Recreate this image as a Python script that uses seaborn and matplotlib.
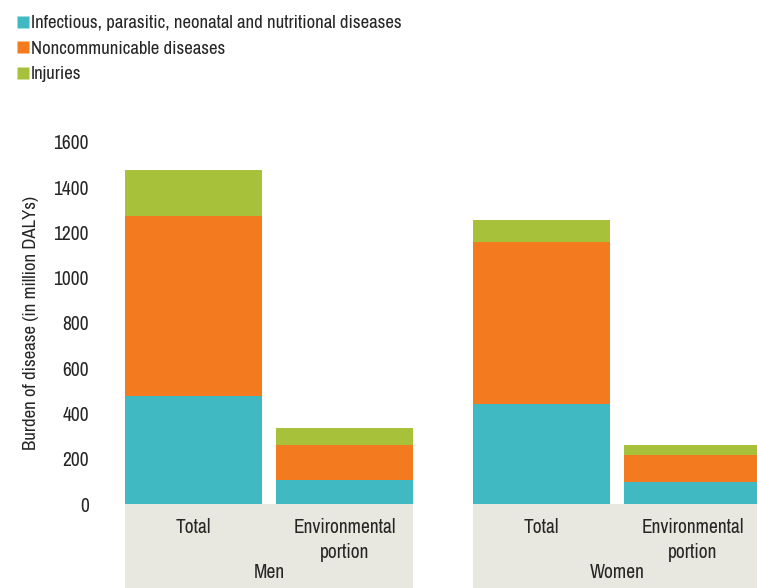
import pandas as pd
import seaborn as sns
import matplotlib.pyplot as plt
import matplotlib.transforms as mtransforms
from matplotlib import font_manager
from matplotlib.patches import Rectangle
from matplotlib.lines import Line2D

sex = ['Men', 'Men', 'Women', 'Women']
portion = ['Total', 'Environmental\nportion', 'Total', 'Environmental\nportion']
infectious = [477, 106, 443, 97]
noncommunicable = [796, 155, 715, 120]
injuries = [203, 75, 97, 44]

series_names = ['Infectious, parasitic, neonatal and nutritional diseases',
                'Noncommunicable diseases', 'Injuries']
colors = ['#40B9C3', '#F47A20', '#A8C13A']
band_color = '#E9E8E0'
text_color = '#262626'

# the original uses a condensed face; take a narrow one if there is any
narrow = None
for f in font_manager.fontManager.ttflist:
    n = f.name.lower()
    if 'narrow' in n or 'condensed' in n:
        narrow = f.name
        break

sns.set_style('white')
if narrow is not None:
    plt.rcParams['font.family'] = [narrow, 'DejaVu Sans']
    fsize = 14
else:
    plt.rcParams['font.family'] = ['DejaVu Sans']
    fsize = 11
plt.rcParams['text.color'] = text_color
plt.rcParams['ytick.color'] = text_color

df = pd.DataFrame({'sex': sex, 'portion': portion,
                   'inf': infectious, 'ncd': noncommunicable, 'inj': injuries})
df['c1'] = df['inf']
df['c2'] = df['inf'] + df['ncd']
df['c3'] = df['c2'] + df['inj']

fig = plt.figure(figsize=(7.57, 5.88), dpi=100)
ax = fig.add_axes([125 / 757, 84 / 588, 632 / 757, 362 / 588])

hue_order = ['Total', 'Environmental\nportion']
for col, color in zip(['c3', 'c2', 'c1'], colors[::-1]):
    sns.barplot(df, x='sex', y=col, hue='portion', hue_order=hue_order,
                palette=[color, color], width=0.868, gap=0.093,
                saturation=1, legend=False, errorbar=None, linewidth=0, ax=ax)

ax.set_ylim(0, 1600)
ax.set_xlim(-0.414, 1.402)
ax.set_yticks(range(0, 1601, 200))
ax.tick_params(axis='y', length=0, pad=26, labelsize=fsize)
ax.set_xticks([])
ax.set_xlabel('')
ax.set_ylabel('Burden of disease (in million DALYs)', fontsize=fsize - 0.5, labelpad=10)
sns.despine(ax=ax, left=True, bottom=True)

# category band under the bars
trans = mtransforms.blended_transform_factory(ax.transData, ax.transAxes)
for i in range(2):
    band = Rectangle((i - 0.414, -0.235), 0.828, 0.235, transform=trans,
                     facecolor=band_color, edgecolor='none', clip_on=False, zorder=0)
    ax.add_patch(band)

bars = [p for p in ax.patches if p.get_width() < 0.5 and p.get_height() > 0][:4]
for p in bars:
    cx = p.get_x() + p.get_width() / 2
    grp = int(round(cx))
    lab = hue_order[0] if (cx - grp) < 0 else hue_order[1]
    ax.text(cx, -0.04, lab, transform=trans, ha='center', va='top',
            fontsize=fsize, linespacing=1.35)
for i, name in enumerate(['Men', 'Women']):
    ax.text(i, -0.163, name, transform=trans, ha='center', va='top', fontsize=fsize)

handles = [Line2D([], [], marker='s', linestyle='none', markersize=9,
                  markerfacecolor=c, markeredgecolor='none') for c in colors]
fig.legend(handles, series_names, loc='upper left', bbox_to_anchor=(0.0, 1.0),
           frameon=False, fontsize=fsize - 0.5, handletextpad=0.05, labelspacing=0.5,
           borderaxespad=0.6, borderpad=0.2, handlelength=0.8)

fig.savefig('out.png', dpi=100)
